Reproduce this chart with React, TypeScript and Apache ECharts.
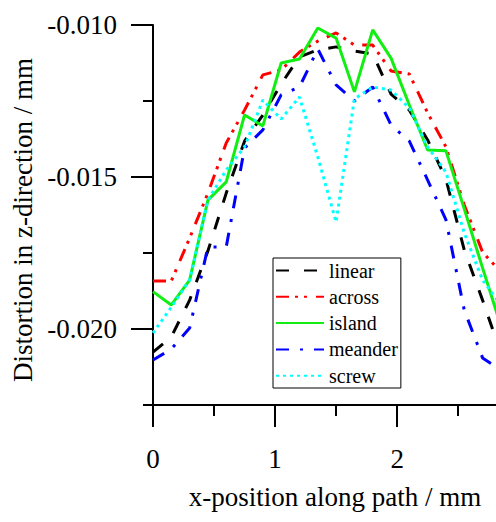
import React, { useEffect, useRef } from "react";
import * as echarts from "echarts";

const xPositions = [0, 0.15, 0.3, 0.45, 0.6, 0.75, 0.9, 1.05, 1.2, 1.35, 1.5, 1.65, 1.8, 1.95, 2.1, 2.25, 2.4, 2.55, 2.7, 2.85];

const linear = [-0.02076, -0.02026, -0.01905, -0.01743, -0.01553, -0.01382, -0.01296, -0.01194, -0.01105, -0.01082, -0.01072, -0.01086, -0.01095, -0.01227, -0.0128, -0.01378, -0.01507, -0.0174, -0.01905, -0.02079];
const across = [-0.01842, -0.01842, -0.01701, -0.01553, -0.01388, -0.0128, -0.01164, -0.01148, -0.01089, -0.01053, -0.01026, -0.01066, -0.01066, -0.01151, -0.01161, -0.01289, -0.01401, -0.01592, -0.01747, -0.01813];
const island = [-0.01877, -0.01921, -0.01839, -0.01576, -0.01516, -0.01296, -0.01332, -0.01125, -0.01112, -0.0101, -0.01043, -0.0122, -0.01016, -0.01109, -0.01263, -0.01411, -0.01414, -0.01605, -0.01799, -0.0199];
const meander = [-0.02102, -0.02066, -0.01997, -0.0173, -0.0173, -0.01405, -0.01345, -0.0123, -0.01204, -0.01079, -0.01197, -0.0125, -0.01204, -0.01329, -0.01382, -0.0151, -0.01641, -0.01938, -0.02095, -0.02135];
const screw = [-0.02013, -0.01928, -0.01839, -0.01576, -0.01477, -0.01401, -0.01247, -0.01309, -0.01237, -0.01434, -0.01648, -0.01243, -0.01204, -0.01214, -0.01273, -0.01401, -0.01484, -0.01684, -0.01839, -0.01921];

const xMajorTicks = [0, 1, 2];
const xMinorTicks = [0.5, 1.5, 2.5];
const yMajorTicks = [-0.02, -0.015, -0.01];
const yMinorTicks = [-0.0225, -0.0175, -0.0125];

const FONT = "Liberation Serif";

const isMajor = (v: number, list: number[]) => list.some((t) => Math.abs(t - v) < 1e-9);

export default function App() {
  const ref = useRef<HTMLDivElement>(null);
  useEffect(() => {
    if (!ref.current) return;
    const chart = echarts.init(ref.current, null, { renderer: "svg" });
    const mk = (name: string, data: number[], color: string, type: any) => ({
      name,
      type: "line",
      xAxisIndex: 0,
      yAxisIndex: 0,
      data: xPositions.map((x, i) => [x, data[i]]),
      symbol: "none",
      lineStyle: { color, width: 3, type },
      itemStyle: { color },
    });
    const axisLineStyle = { color: "#000", width: 2 };
    chart.setOption({
      animation: false,
      textStyle: { fontFamily: FONT },
      grid: { left: 153, top: 25, right: 0, bottom: 117, containLabel: false },
      xAxis: [
        {
          type: "value",
          min: 0,
          max: 2.81,
          interval: 0.5,
          position: "bottom",
          splitLine: { show: false },
          axisLine: { show: true, onZero: false, lineStyle: axisLineStyle },
          axisTick: { show: true, customValues: xMajorTicks, length: 22, lineStyle: axisLineStyle },
          axisLabel: {
            fontFamily: FONT,
            fontSize: 27,
            color: "#000",
            margin: 40,
            showMaxLabel: false,
            formatter: (v: number) => (isMajor(v, xMajorTicks) ? String(Math.round(v)) : ""),
          },
        },
        {
          type: "value",
          min: 0,
          max: 2.81,
          position: "bottom",
          splitLine: { show: false },
          axisLine: { show: false },
          axisTick: { show: true, customValues: xMinorTicks, length: 11, lineStyle: axisLineStyle },
          axisLabel: { show: false },
        },
      ],
      yAxis: [
        {
          type: "value",
          min: -0.0225,
          max: -0.01,
          interval: 0.0025,
          position: "left",
          splitLine: { show: false },
          axisLine: { show: true, onZero: false, lineStyle: axisLineStyle },
          axisTick: { show: true, customValues: yMajorTicks, length: 22, lineStyle: axisLineStyle },
          axisLabel: {
            fontFamily: FONT,
            fontSize: 27,
            color: "#000",
            margin: 36,
            formatter: (v: number) => (isMajor(v, yMajorTicks) ? v.toFixed(3) : ""),
          },
        },
        {
          type: "value",
          min: -0.0225,
          max: -0.01,
          position: "left",
          splitLine: { show: false },
          axisLine: { show: false },
          axisTick: { show: true, customValues: yMinorTicks, length: 10, lineStyle: axisLineStyle },
          axisLabel: { show: false },
        },
      ],
      legend: {
        left: 273,
        top: 258,
        orient: "vertical",
        itemWidth: 48,
        itemHeight: 20,
        itemGap: 6.3,
        padding: [2.5, 3, 2.3, 2],
        borderColor: "#000",
        borderWidth: 1,
        backgroundColor: "#fff",
        itemStyle: { opacity: 0 },
        textStyle: { fontSize: 20, lineHeight: 20, color: "#000", fontFamily: FONT },
        data: ["linear", "across", "island", "meander", "screw"],
      },
      graphic: [
        {
          type: "text",
          x: 23,
          y: 220,
          rotation: Math.PI / 2,
          style: { text: "Distortion in z-direction / mm", font: `27px ${FONT}`, textAlign: "center", textVerticalAlign: "middle", fill: "#000" },
        },
        {
          type: "text",
          x: 335,
          y: 497,
          style: { text: "x-position along path / mm", font: `27px ${FONT}`, textAlign: "center", textVerticalAlign: "middle", fill: "#000" },
        },
      ],
      series: [
        mk("linear", linear, "#000000", [13, 15]),
        mk("across", across, "#ff0000", [13, 6, 3, 6, 3, 9]),
        mk("island", island, "#11ee11", "solid"),
        mk("meander", meander, "#0000ff", [13, 11, 3, 11]),
        mk("screw", screw, "#00ffff", [3, 4]),
      ],
    });
    return () => chart.dispose();
  }, []);
  return <div ref={ref} style={{ position: "absolute", left: 0, top: 0, width: 496, height: 522 }} />;
}
